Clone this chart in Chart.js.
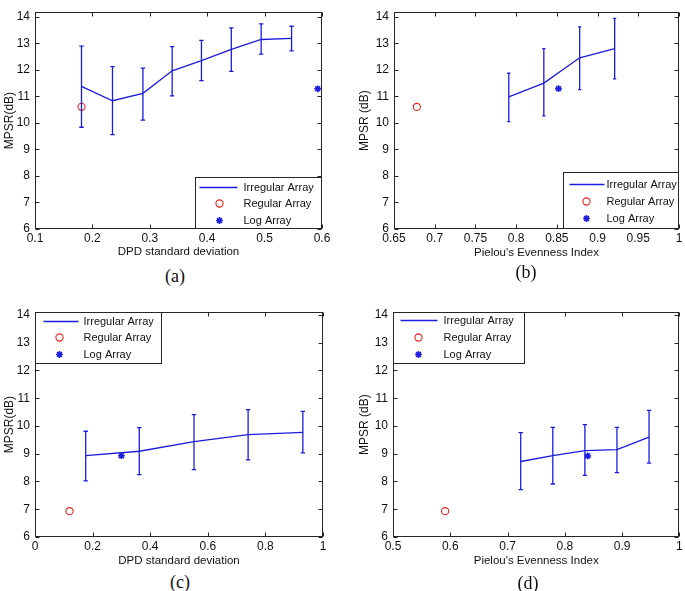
<!DOCTYPE html>
<html><head><meta charset="utf-8">
<script src="https://cdn.jsdelivr.net/npm/chart.js@4.4.1/dist/chart.umd.min.js"></script>
<style>
html,body{margin:0;padding:0;background:#fff}
body{width:685px;height:591px;position:relative;overflow:hidden}
canvas{position:absolute}
.cap{position:absolute;font-family:"Liberation Serif","Times New Roman",serif;font-size:18px;color:#111;transform:translate(-50%,-50%);white-space:nowrap}
</style></head><body>
<canvas id="ca" width="340" height="262" style="left:0;top:0"></canvas>
<canvas id="cb" width="333" height="262" style="left:352px;top:0"></canvas>
<canvas id="cc" width="340" height="270" style="left:0;top:300px"></canvas>
<canvas id="cd" width="333" height="270" style="left:352px;top:300px"></canvas>
<div class="cap" style="left:175px;top:276px">(a)</div>
<div class="cap" style="left:526px;top:272px">(b)</div>
<div class="cap" style="left:180px;top:582px">(c)</div>
<div class="cap" style="left:528px;top:583px">(d)</div>
<script>
// ---------- data ----------
const seriesNames = ['Irregular Array', 'Regular Array', 'Log Array'];
const yTicks = [6, 7, 8, 9, 10, 11, 12, 13, 14];

// (a) MPSR vs DPD standard deviation
const aXTicks = [0.1, 0.2, 0.3, 0.4, 0.5, 0.6];
const aX     = [0.181, 0.235, 0.288, 0.339, 0.390, 0.442, 0.494, 0.547];
const aMean  = [11.38, 10.84, 11.12, 11.97, 12.35, 12.78, 13.15, 13.19];
const aUpper = [12.90, 12.13, 12.07, 12.88, 13.12, 13.59, 13.74, 13.65];
const aLower = [9.84, 9.56, 10.11, 11.02, 11.60, 11.95, 12.60, 12.72];
const aRegular = [[0.181, 10.61]];
const aLog     = [[0.5925, 11.29]];

// (b) MPSR vs Pielou's Evenness Index
const bXTicks = [0.65, 0.7, 0.75, 0.8, 0.85, 0.9, 0.95, 1];
const bX     = [0.791, 0.834, 0.878, 0.921];
const bMean  = [10.98, 11.50, 12.45, 12.80];
const bUpper = [11.87, 12.80, 13.62, 13.94];
const bLower = [10.05, 10.26, 11.25, 11.66];
const bRegular = [[0.678, 10.60]];
const bLog     = [[0.852, 11.29]];

// (c) MPSR vs DPD standard deviation
const cXTicks = [0, 0.2, 0.4, 0.6, 0.8, 1];
const cX     = [0.176, 0.362, 0.552, 0.740, 0.930];
const cMean  = [8.93, 9.09, 9.44, 9.69, 9.77];
const cUpper = [9.81, 9.94, 10.41, 10.59, 10.53];
const cLower = [8.02, 8.25, 8.43, 8.78, 9.03];
const cRegular = [[0.120, 6.93]];
const cLog     = [[0.300, 8.93]];

// (d) MPSR vs Pielou's Evenness Index
const dXTicks = [0.5, 0.6, 0.7, 0.8, 0.9, 1];
const dX     = [0.723, 0.779, 0.835, 0.891, 0.947];
const dMean  = [8.72, 8.93, 9.11, 9.15, 9.60];
const dUpper = [9.76, 9.95, 10.05, 9.95, 10.56];
const dLower = [7.71, 7.91, 8.22, 8.32, 8.66];
const dRegular = [[0.591, 6.93]];
const dLog     = [[0.840, 8.92]];

// ---------- styling ----------
const BLUE = '#1c1cdc';
const RED = '#e8201c';
const FRAME = '#262626';
const TXT = '#111';
Chart.defaults.font.family = "'Liberation Sans', Arial, Helvetica, sans-serif";
Chart.defaults.color = TXT;

const toPts = arr => arr.map(p => ({x: p[0], y: p[1]}));
const fmt = v => String(+Number(v).toFixed(3));

const matlabPlugin = {
  id: 'matlab',
  afterDatasetsDraw(chart) {
    const {ctx, scales: {x, y}} = chart;
    const cap = chart.options.plugins.matlab.cap;
    chart.data.datasets.forEach(ds => {
      if (!ds.errUpper) return;
      ctx.save();
      ctx.strokeStyle = ds.borderColor;
      ctx.lineWidth = ds.borderWidth;
      ds.data.forEach((p, j) => {
        const px = x.getPixelForValue(p.x);
        const pu = y.getPixelForValue(ds.errUpper[j]);
        const pl = y.getPixelForValue(ds.errLower[j]);
        ctx.beginPath();
        ctx.moveTo(px, pu); ctx.lineTo(px, pl);
        ctx.moveTo(px - cap, pu); ctx.lineTo(px + cap, pu);
        ctx.moveTo(px - cap, pl); ctx.lineTo(px + cap, pl);
        ctx.stroke();
      });
      ctx.restore();
    });
  },
  afterDraw(chart) {
    const {ctx, chartArea: ca, scales: {x, y}} = chart;
    const o = chart.options.plugins.matlab;
    ctx.save();
    ctx.strokeStyle = FRAME;
    ctx.lineWidth = 1;
    const L = Math.round(ca.left) + 0.5, R = Math.round(ca.right) - 0.5;
    const T = Math.round(ca.top) + 0.5, B = Math.round(ca.bottom) - 0.5;
    ctx.strokeRect(L, T, R - L, B - T);
    const tl = 4;
    ctx.beginPath();
    x.ticks.forEach(t => {
      const px = Math.round(x.getPixelForValue(t.value)) + 0.5;
      ctx.moveTo(px, B); ctx.lineTo(px, B - tl);
      ctx.moveTo(px, T); ctx.lineTo(px, T + tl);
    });
    y.ticks.forEach(t => {
      const py = Math.round(y.getPixelForValue(t.value)) + 0.5;
      ctx.moveTo(L, py); ctx.lineTo(L + tl, py);
      ctx.moveTo(R, py); ctx.lineTo(R - tl, py);
    });
    ctx.stroke();

    // legend
    const lg = o.legend;
    const bx = lg.corner === 'br' ? R - lg.w : L;
    const by = lg.corner === 'br' ? B - lg.h : T;
    ctx.fillStyle = '#fff';
    ctx.fillRect(bx, by, lg.w, lg.h);
    ctx.strokeStyle = FRAME;
    ctx.strokeRect(bx, by, lg.w, lg.h);
    ctx.font = lg.fontSize + "px 'Liberation Sans', Arial, sans-serif";
    ctx.textBaseline = 'middle';
    ctx.textAlign = 'left';
    chart.data.datasets.forEach((ds, i) => {
      const ry = Math.round(by + lg.rows[i]) + 0.5;
      ctx.strokeStyle = ds.borderColor;
      ctx.fillStyle = ds.backgroundColor;
      ctx.lineWidth = ds.borderWidth;
      if (ds.showLine) {
        ctx.beginPath();
        ctx.moveTo(bx + lg.line[0], ry);
        ctx.lineTo(bx + lg.line[1], ry);
        ctx.stroke();
      } else {
        Chart.helpers.drawPoint(ctx, {pointStyle: ds.pointStyle, radius: ds.pointRadius, rotation: 0, borderWidth: ds.borderWidth}, bx + lg.marker, ry);
      }
      ctx.fillStyle = TXT;
      ctx.fillText(ds.label, bx + lg.text, ry + 0.5);
    });
    ctx.restore();
  }
};

function makeChart(id, cfg) {
  const datasets = [
    {
      label: seriesNames[0],
      data: cfg.xs.map((v, i) => ({x: v, y: cfg.mean[i]})),
      errUpper: cfg.upper, errLower: cfg.lower,
      showLine: true, borderColor: BLUE, backgroundColor: BLUE,
      borderWidth: 1.3, pointRadius: 0, tension: 0
    },
    {
      label: seriesNames[1],
      data: toPts(cfg.regular),
      showLine: false, pointStyle: 'circle', pointRadius: 3.6,
      borderColor: RED, backgroundColor: 'rgba(0,0,0,0)', borderWidth: 1.1
    },
    {
      label: seriesNames[2],
      data: toPts(cfg.log),
      showLine: false, pointStyle: 'star', pointRadius: 3.4,
      borderColor: BLUE, backgroundColor: BLUE, borderWidth: 1.6
    }
  ];
  return new Chart(document.getElementById(id), {
    type: 'scatter',
    data: {datasets},
    plugins: [matlabPlugin],
    options: {
      responsive: false,
      animation: false,
      devicePixelRatio: 1,
      layout: {padding: cfg.padding},
      plugins: {
        legend: {display: false},
        tooltip: {enabled: false},
        matlab: {cap: cfg.cap, legend: cfg.legend}
      },
      scales: {
        x: {
          type: 'linear', min: cfg.xMin, max: cfg.xMax,
          afterBuildTicks: s => { s.ticks = cfg.xTicks.map(v => ({value: v})); },
          afterFit: s => { s.height = 33; },
          grid: {display: false, drawTicks: false},
          border: {display: false},
          ticks: {font: {size: 12}, padding: 2, maxRotation: 0, autoSkip: false, callback: fmt, color: TXT},
          title: {display: true, text: cfg.xTitle, font: {size: 11.5}, padding: {top: 0, bottom: cfg.xTitlePad}, color: TXT}
        },
        y: {
          type: 'linear', min: 6, max: cfg.yMax,
          afterBuildTicks: s => { s.ticks = yTicks.map(v => ({value: v})); },
          afterFit: s => { s.width = cfg.yWidth; },
          grid: {display: false, drawTicks: false},
          border: {display: false},
          ticks: {font: {size: 12}, padding: 5, autoSkip: false, callback: fmt, color: TXT},
          title: {display: true, text: cfg.yTitle, font: {size: 12}, padding: {top: cfg.yTitlePad, bottom: 0}, color: TXT}
        }
      }
    }
  });
}

makeChart('ca', {
  xs: aX, mean: aMean, upper: aUpper, lower: aLower, regular: aRegular, log: aLog,
  xTicks: aXTicks, xMin: 0.1, xMax: 0.6, yMax: 14.18,
  xTitle: 'DPD standard deviation', yTitle: 'MPSR(dB)',
  padding: {left: 0, top: 4, right: 18, bottom: 0}, yWidth: 35, yTitlePad: 2.5, xTitlePad: 3.2, cap: 2.2,
  legend: {corner: 'br', w: 126, h: 51, line: [4, 42], marker: 24, text: 48, rows: [9, 25, 42], fontSize: 11}
});
makeChart('cb', {
  xs: bX, mean: bMean, upper: bUpper, lower: bLower, regular: bRegular, log: bLog,
  xTicks: bXTicks, xMin: 0.65, xMax: 1, yMax: 14.17,
  xTitle: "Pielou's Evenness Index", yTitle: 'MPSR (dB)',
  padding: {left: 0, top: 1, right: 6, bottom: 0}, yWidth: 42, yTitlePad: 5.5, xTitlePad: 2.3, cap: 1.6,
  legend: {corner: 'br', w: 115, h: 56, line: [6, 41], marker: 23, text: 43, rows: [11, 28, 45], fontSize: 11}
});
makeChart('cc', {
  xs: cX, mean: cMean, upper: cUpper, lower: cLower, regular: cRegular, log: cLog,
  xTicks: cXTicks, xMin: 0, xMax: 1, yMax: 14.1,
  xTitle: 'DPD standard deviation', yTitle: 'MPSR(dB)',
  padding: {left: 0, top: 10, right: 17, bottom: 0}, yWidth: 35, yTitlePad: 2.5, xTitlePad: 2.2, cap: 2.2,
  legend: {corner: 'tl', w: 126, h: 51, line: [8, 43], marker: 24, text: 48, rows: [8, 24, 41], fontSize: 11}
});
makeChart('cd', {
  xs: dX, mean: dMean, upper: dUpper, lower: dLower, regular: dRegular, log: dLog,
  xTicks: dXTicks, xMin: 0.5, xMax: 1, yMax: 14.1,
  xTitle: "Pielou's Evenness Index", yTitle: 'MPSR (dB)',
  padding: {left: 0, top: 10, right: 3, bottom: 0}, yWidth: 41, yTitlePad: 5.5, xTitlePad: 2, cap: 2.2,
  legend: {corner: 'tl', w: 131, h: 51, line: [7, 44], marker: 25, text: 50, rows: [7, 24, 41], fontSize: 11}
});
</script>
</body></html>
